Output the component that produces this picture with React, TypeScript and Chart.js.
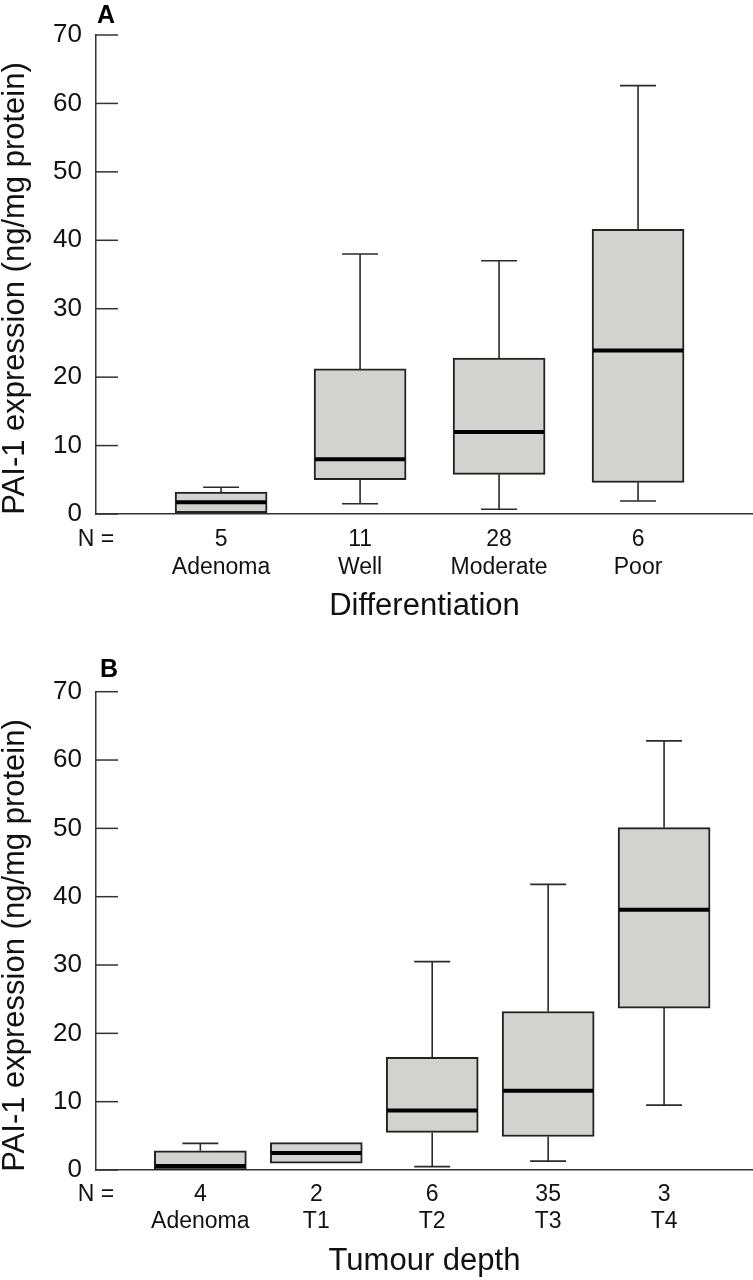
import React, { useEffect, useRef } from 'react';
import { Chart, registerables } from 'chart.js';

Chart.register(...registerables);

const FONT = 'Helvetica, Arial, "Liberation Sans", sans-serif';

// ---- Panel A: Differentiation ----
const diffCategories = ['Adenoma', 'Well', 'Moderate', 'Poor'];
const diffN = ['5', '11', '28', '6'];
const diffMin = [0.2, 1.5, 0.7, 1.9];
const diffQ1 = [0.2, 5.0, 5.8, 4.6];
const diffMedian = [1.7, 8.0, 12.0, 23.9];
const diffQ3 = [3.2, 21.2, 22.8, 41.6];
const diffMax = [3.9, 38.0, 37.0, 62.6];

// ---- Panel B: Tumour depth ----
const depthCategories = ['Adenoma', 'T1', 'T2', 'T3', 'T4'];
const depthN = ['4', '2', '6', '35', '3'];
const depthMin = [0, 1.0, 0.5, 1.3, 9.5];
const depthQ1 = [0, 1.0, 5.5, 4.9, 23.7];
const depthMedian = [0.6, 2.5, 8.7, 11.6, 38.1];
const depthQ3 = [2.8, 4.0, 16.5, 23.2, 50.1];
const depthMax = [3.9, 4.0, 30.5, 41.8, 62.8];

const yAxisTitle = 'PAI-1 expression (ng/mg protein)';
const nLabel = 'N =';
const yMin = 0;
const yMax = 70;
const yStep = 10;

interface PanelSpec {
  letter: string;
  categories: string[];
  n: string[];
  min: number[];
  q1: number[];
  median: number[];
  q3: number[];
  max: number[];
  xTitle: string;
  xMin: number;
  xMax: number;
  padTop: number;
  areaBottom: number;
  labelLineHeight: number;
  labelPadding: number;
  titlePadBottom: number;
  letterX: number;
  letterBaseline: number;
  yTitleCenter: number;
}

const panelA: PanelSpec = {
  letter: 'A',
  categories: diffCategories,
  n: diffN,
  min: diffMin,
  q1: diffQ1,
  median: diffMedian,
  q3: diffQ3,
  max: diffMax,
  xTitle: 'Differentiation',
  xMin: -0.9,
  xMax: 3.827,
  padTop: 35,
  areaBottom: 514,
  labelLineHeight: 28,
  labelPadding: 12,
  titlePadBottom: 18,
  letterX: 97,
  letterBaseline: 23,
  yTitleCenter: 288.5,
};

const panelB: PanelSpec = {
  letter: 'B',
  categories: depthCategories,
  n: depthN,
  min: depthMin,
  q1: depthQ1,
  median: depthMedian,
  q3: depthQ3,
  max: depthMax,
  xTitle: 'Tumour depth',
  xMin: -0.9,
  xMax: 4.767,
  padTop: 51.7,
  areaBottom: 530,
  labelLineHeight: 27,
  labelPadding: 11.5,
  titlePadBottom: 3,
  letterX: 100,
  letterBaseline: 37,
  yTitleCenter: 305.5,
};

const W = 753;
const H = 640;
const BOX_WIDTH = 92;
const CAP_HALF = 18;

function makeBoxPlugin(spec: PanelSpec) {
  return {
    id: 'boxWhiskers',
    afterDatasetsDraw(chart: any) {
      const { ctx } = chart;
      const x = chart.scales.x;
      const y = chart.scales.y;
      ctx.save();
      ctx.strokeStyle = '#2b2b2b';
      ctx.lineWidth = 1.6;
      ctx.lineCap = 'butt';
      spec.q1.forEach((q1: number, i: number) => {
        const cx = x.getPixelForValue(i);
        const yq1 = y.getPixelForValue(q1);
        const yq3 = y.getPixelForValue(spec.q3[i]);
        const yLo = y.getPixelForValue(spec.min[i]);
        const yHi = y.getPixelForValue(spec.max[i]);
        if (spec.max[i] > spec.q3[i]) {
          ctx.beginPath();
          ctx.moveTo(cx, yq3);
          ctx.lineTo(cx, yHi);
          ctx.moveTo(cx - CAP_HALF, yHi);
          ctx.lineTo(cx + CAP_HALF, yHi);
          ctx.stroke();
        }
        if (spec.min[i] < q1) {
          ctx.beginPath();
          ctx.moveTo(cx, yq1);
          ctx.lineTo(cx, yLo);
          ctx.moveTo(cx - CAP_HALF, yLo);
          ctx.lineTo(cx + CAP_HALF, yLo);
          ctx.stroke();
        }
      });
      ctx.strokeStyle = '#000';
      ctx.lineWidth = 4;
      spec.median.forEach((m: number, i: number) => {
        const cx = x.getPixelForValue(i);
        const ym = y.getPixelForValue(m);
        ctx.beginPath();
        ctx.moveTo(cx - BOX_WIDTH / 2 + 1, ym);
        ctx.lineTo(cx + BOX_WIDTH / 2 - 1, ym);
        ctx.stroke();
      });
      ctx.restore();
    },
  };
}

function makeDecorPlugin(spec: PanelSpec) {
  return {
    id: 'decor',
    afterDraw(chart: any) {
      const { ctx, chartArea } = chart;
      const y = chart.scales.y;
      ctx.save();
      // inward y ticks
      ctx.strokeStyle = '#333';
      ctx.lineWidth = 1.5;
      y.ticks.forEach((t: any) => {
        const py = y.getPixelForValue(t.value);
        ctx.beginPath();
        ctx.moveTo(chartArea.left, py);
        ctx.lineTo(chartArea.left + 22, py);
        ctx.stroke();
      });
      // panel letter
      ctx.fillStyle = '#000';
      ctx.font = `bold 25px ${FONT}`;
      ctx.textAlign = 'left';
      ctx.textBaseline = 'alphabetic';
      ctx.fillText(spec.letter, spec.letterX, spec.letterBaseline);
      // y-axis title
      ctx.translate(23.5, spec.yTitleCenter);
      ctx.rotate(-Math.PI / 2);
      ctx.font = `31px ${FONT}`;
      ctx.textAlign = 'center';
      ctx.textBaseline = 'alphabetic';
      ctx.fillStyle = '#111';
      ctx.fillText(yAxisTitle, 0, 0);
      ctx.restore();
    },
  };
}

function Panel({ spec }: { spec: PanelSpec }) {
  const ref = useRef<HTMLCanvasElement | null>(null);
  useEffect(() => {
    if (!ref.current) return;
    const chart = new Chart(ref.current, {
      type: 'bar',
      data: {
        datasets: [
          {
            data: spec.q1.map((q1, i) => ({ x: i, y: [q1, spec.q3[i]] })) as any,
            backgroundColor: '#d2d3d1',
            borderColor: '#222',
            borderWidth: 2,
            borderSkipped: false,
            barThickness: BOX_WIDTH,
          },
        ],
      },
      options: {
        responsive: false,
        animation: false,
        events: [],
        devicePixelRatio: 1,
        layout: { padding: { top: spec.padTop, right: 0, bottom: 0, left: 0 } },
        plugins: {
          legend: { display: false },
          tooltip: { enabled: false },
        },
        scales: {
          x: {
            type: 'linear',
            bounds: 'data',
            offset: false,
            min: spec.xMin,
            max: spec.xMax,
            afterBuildTicks: (scale: any) => {
              scale.ticks = [{ value: spec.xMin }].concat(
                spec.categories.map((_, i) => ({ value: i }))
              );
            },
            afterFit: (scale: any) => {
              scale.height = H - spec.areaBottom;
            },
            grid: { display: false, drawTicks: false, offset: false },
            border: { display: true, color: '#333', width: 1.5 },
            ticks: {
              autoSkip: false,
              maxRotation: 0,
              minRotation: 0,
              padding: spec.labelPadding,
              color: '#111',
              font: { family: FONT, size: 23, lineHeight: spec.labelLineHeight / 23 },
              callback: (_v: any, idx: number) =>
                idx === 0 ? nLabel : [spec.n[idx - 1], spec.categories[idx - 1]],
            },
            title: {
              display: true,
              text: spec.xTitle,
              color: '#111',
              font: { family: FONT, size: 31, lineHeight: 1 },
              padding: { top: 0, bottom: spec.titlePadBottom },
            },
          },
          y: {
            type: 'linear',
            min: yMin,
            max: yMax,
            afterFit: (scale: any) => {
              scale.width = 96;
            },
            grid: { display: false, drawTicks: false },
            border: { display: true, color: '#333', width: 1.5 },
            ticks: {
              stepSize: yStep,
              padding: 14,
              color: '#111',
              font: { family: FONT, size: 26 },
            },
            title: { display: false },
          },
        },
      } as any,
      plugins: [makeBoxPlugin(spec), makeDecorPlugin(spec)],
    });
    return () => chart.destroy();
  }, [spec]);
  return (
    <canvas
      ref={ref}
      width={W}
      height={H}
      style={{ display: 'block', width: W, height: H }}
    />
  );
}

export default function App() {
  return (
    <div style={{ position: 'absolute', left: 0, top: 0, width: W, background: '#fff' }}>
      <Panel spec={panelA} />
      <Panel spec={panelB} />
    </div>
  );
}
